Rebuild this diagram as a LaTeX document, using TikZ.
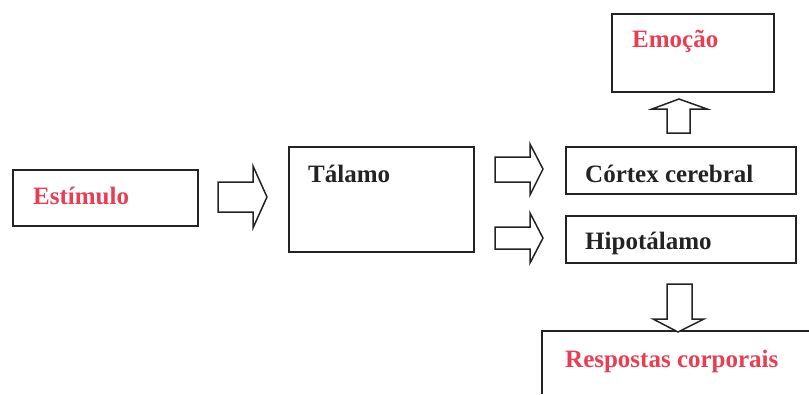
\documentclass[tikz,border=0pt]{standalone}
\usepackage{fontspec}
\setmainfont{Liberation Serif}
\definecolor{lbl}{RGB}{232,62,82}
\definecolor{ink}{RGB}{35,35,35}
\begin{document}
\begin{tikzpicture}[x=1pt,y=-1pt,
  box/.style={draw=ink,line width=1.7pt,inner sep=0pt,anchor=north west},
  txt/.style={font=\fontsize{25}{27}\selectfont\bfseries,inner sep=0pt,anchor=base west},
  blk/.style={draw=ink,line width=1.5pt,fill=white,line join=miter}]
\useasboundingbox (0,0) rectangle (809,394);
% boxes
\node[box,minimum width=185pt,minimum height=56pt] (estimulo) at (12,169) {};
\node[box,minimum width=185pt,minimum height=105pt] (talamo) at (288,146) {};
\node[box,minimum width=230pt,minimum height=47pt] (cortex) at (565,146) {};
\node[box,minimum width=230pt,minimum height=47pt] (hipo) at (565,215) {};
\node[box,minimum width=162pt,minimum height=78pt] (emocao) at (611,13) {};
\coordinate (resp) at (542,331);
\draw[draw=ink,line width=1.7pt] (809,331) -- (resp) -- (542,394);
% texts
\node[txt,text=lbl] (testim) at (33,204) {Estímulo};
\node[txt,text=ink] (ttal) at (308,182) {Tálamo};
\node[txt,text=ink] (tcor) at (585,182) {Córtex cerebral};
\node[txt,text=ink] (thip) at (585,249) {Hipotálamo};
\node[txt,text=lbl] (temo) at (632,47) {Emoção};
\node[txt,text=lbl] (tresp) at (565,367) {Respostas corporais};
% block arrows (right)
\draw[blk] (218,182) -- (253,182) -- (253,166) -- (267,197) -- (253,228) -- (253,212) -- (218,212) -- cycle;
\draw[blk] (495,157) -- (530,157) -- (530,144) -- (543,169) -- (530,195) -- (530,182) -- (495,182) -- cycle;
\draw[blk] (495,227) -- (530,227) -- (530,213) -- (543,238) -- (530,263) -- (530,249) -- (495,249) -- cycle;
% up arrow
\draw[blk] (667,133) -- (667,109) -- (652,109) -- (679,99) -- (707,109) -- (690,109) -- (690,133) -- cycle;
% down arrow
\draw[blk] (667,284) -- (692,284) -- (692,319) -- (704,319) -- (678,332) -- (653,319) -- (667,319) -- cycle;
\end{tikzpicture}
\end{document}
